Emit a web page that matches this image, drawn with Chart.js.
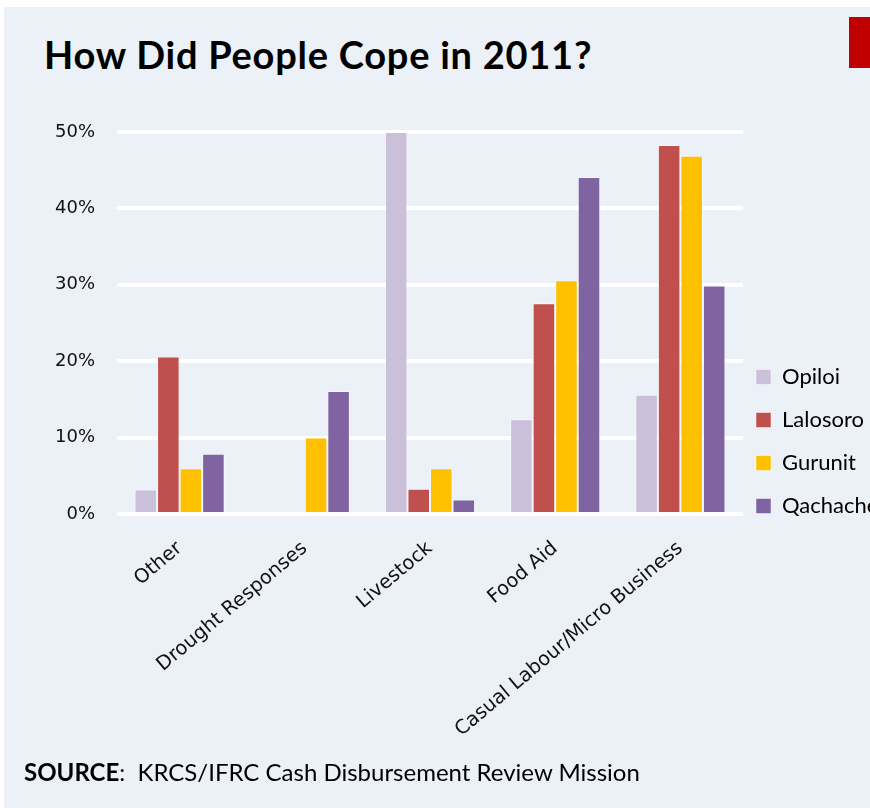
<!DOCTYPE html>
<html>
<head>
<meta charset="utf-8">
<script src="https://cdn.jsdelivr.net/npm/chart.js@4/dist/chart.umd.min.js"></script>
<style>
  html, body { margin: 0; padding: 0; width: 870px; height: 808px; overflow: hidden; background: #fff; }
  #panel { position: absolute; left: 4px; top: 7px; right: 0; bottom: 0; background: #ECF0F7; }
  #title { position: absolute; left: 44px; top: 32px; font: bold 38px Lato, sans-serif; letter-spacing: 0.75px; line-height: 1.2; color: #000; white-space: nowrap; }
  #redbox { position: absolute; left: 849px; top: 17px; width: 21px; height: 51px; background: #C00000; }
  #source { position: absolute; left: 24px; top: 758px; font: 24px Lato, sans-serif; line-height: 1.2; color: #000; white-space: nowrap; }
  #wrap { position: absolute; left: 0; top: 0; width: 870px; height: 808px; }
</style>
</head>
<body>
<div id="panel"></div>
<div id="title">How Did People Cope in 2011?</div>
<div id="redbox"></div>
<div id="wrap"><canvas id="chart_canvas" width="870" height="808"></canvas></div>
<div id="source"><b>SOURCE</b>:&nbsp; KRCS/IFRC Cash Disbursement Review Mission</div>

<script>
const categories = ['Other', 'Drought Responses', 'Livestock', 'Food Aid', 'Casual Labour/Micro Business']
const seriesNames = ['Opiloi', 'Lalosoro', 'Gurunit', 'Qachache']
const opiloi = [3.2, 0, 50, 12.4, 15.6]
const lalosoro = [20.6, 0, 3.3, 27.6, 48.3]
const gurunit = [6, 10, 6, 30.6, 46.9]
const qachache = [7.9, 16.1, 1.9, 44.1, 29.9]
const yTicks = [0, 10, 20, 30, 40, 50]
const colors = ['#CBC0DA', '#C0504D', '#FFC000', '#8064A2']

const ctx_chart = document.getElementById('chart_canvas').getContext('2d')

// nudge legend to sit lower / closer to plot like the original
const legendShift = {
    id: 'legendShift',
    afterLayout(chart) {
        const lg = chart.legend
        lg.left -= 8
        lg.top += 24
        lg.bottom += 24
    }
}

const makeSet = (i, data) => ({
    label: seriesNames[i],
    data: data,
    backgroundColor: colors[i],
    borderColor: 'rgba(255,255,255,0.45)',
    borderWidth: 1,
    barPercentage: 1,
    categoryPercentage: 0.72,
})

const chart = new Chart(ctx_chart, {
    type: 'bar',
    data: {
        labels: categories,
        datasets: [makeSet(0, opiloi), makeSet(1, lalosoro), makeSet(2, gurunit), makeSet(3, qachache)],
    },
    options: {
        responsive: false,
        animation: false,
        devicePixelRatio: 1,
        layout: { padding: { top: 132, left: 0, right: 0, bottom: 34 } },
        plugins: {
            title: { display: false },
            tooltip: { enabled: false },
            legend: {
                position: 'right',
                align: 'end',
                fullSize: false,
                maxWidth: 127,
                labels: {
                    boxWidth: 15,
                    boxHeight: 15,
                    padding: 21,
                    color: '#000',
                    font: { family: 'Lato', size: 22 },
                },
            },
        },
        scales: {
            x: {
                grid: { display: false, drawTicks: false },
                border: { display: false },
                ticks: {
                    minRotation: 40, maxRotation: 40, padding: 23,
                    color: '#111',
                    font: { family: 'DejaVu Sans', size: 19.5 },
                },
                afterFit: (axis) => { axis.height = 260 },
            },
            y: {
                min: 0, max: 50,
                grid: { color: '#ffffff', lineWidth: 4, drawTicks: false },
                border: { display: false },
                afterBuildTicks: (axis) => { axis.ticks = yTicks.map(v => ({ value: v })) },
                ticks: {
                    padding: 22,
                    color: '#111',
                    font: { family: 'DejaVu Sans', size: 18 },
                    callback: (v) => v + '%',
                },
                afterFit: (axis) => { axis.width = 117 },
            },
        },
    },
    plugins: [legendShift],
})
</script>
</body>
</html>
